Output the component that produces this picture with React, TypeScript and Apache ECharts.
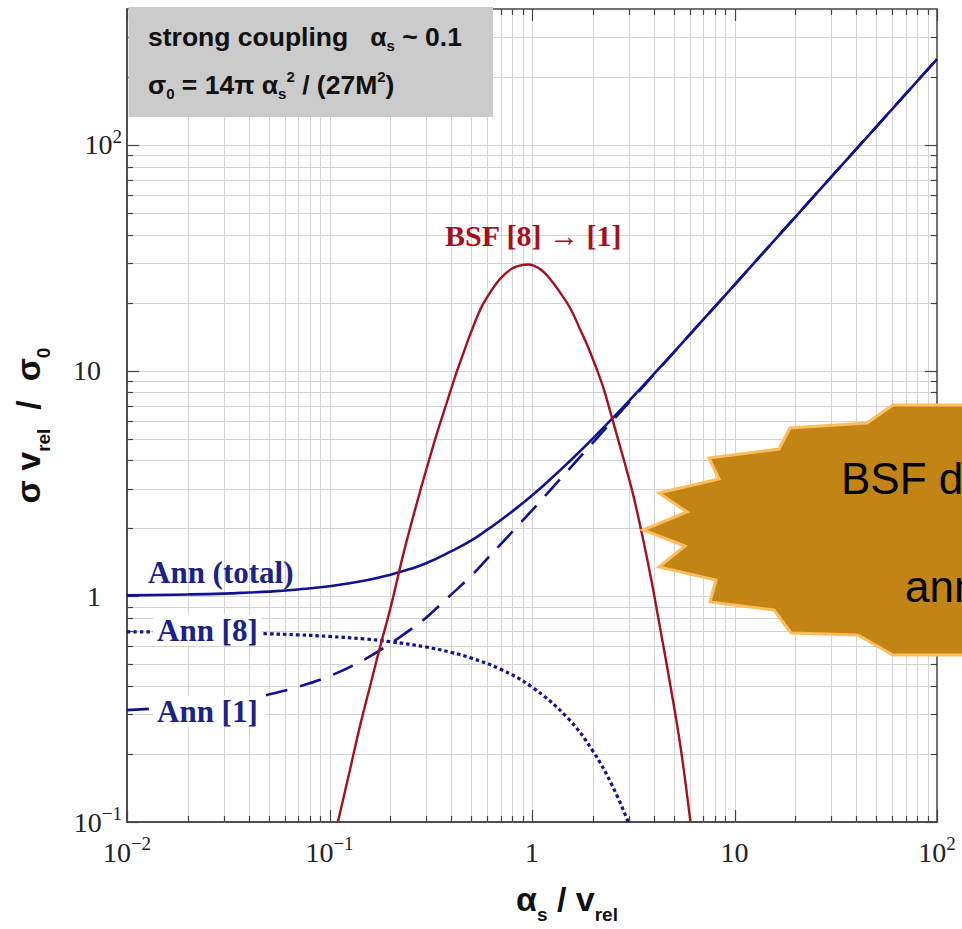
import React, { useEffect, useRef } from "react";
import * as echarts from "echarts";

// ---- data ----
const xAnn = [0.01, 0.02, 0.03, 0.04, 0.05, 0.07, 0.1, 0.15, 0.2, 0.25, 0.3, 0.4, 0.5, 0.6, 0.7, 0.85, 1, 1.2, 1.5, 2, 3, 5, 7, 10, 20, 50, 100];
const annTotal = [1.009, 1.019, 1.028, 1.039, 1.049, 1.072, 1.107, 1.174, 1.247, 1.322, 1.4, 1.584, 1.763, 1.968, 2.175, 2.484, 2.796, 3.23, 3.889, 5.006, 7.299, 12.02, 16.8, 24.0, 48.0, 120, 240];
const ann1 = [0.313, 0.326, 0.339, 0.353, 0.367, 0.397, 0.443, 0.527, 0.618, 0.71, 0.804, 1.02, 1.23, 1.465, 1.7, 2.05, 2.4, 2.88, 3.6, 4.8, 7.2, 12.0, 16.8, 24.0, 48.0, 120, 240];
const xAnn8 = [0.01, 0.02, 0.03, 0.04, 0.05, 0.07, 0.1, 0.15, 0.2, 0.3, 0.4, 0.5, 0.7, 1, 1.5, 2, 2.5, 3];
const ann8 = [0.696, 0.693, 0.689, 0.686, 0.682, 0.675, 0.664, 0.647, 0.629, 0.596, 0.564, 0.533, 0.475, 0.396, 0.289, 0.206, 0.144, 0.099];
const xBsf = [0.11, 0.125, 0.142, 0.16, 0.178, 0.2, 0.232, 0.27, 0.314, 0.345, 0.38, 0.42, 0.459, 0.5, 0.555, 0.6, 0.671, 0.73, 0.8, 0.87, 0.95, 1.02, 1.1, 1.2, 1.38, 1.55, 1.73, 1.9, 2.1, 2.27, 2.44, 2.73, 2.95, 3.18, 3.56, 3.9, 4.31, 4.8, 5.41, 6.06];
const bsf = [0.1, 0.164, 0.27, 0.412, 0.6, 0.887, 1.55, 2.59, 4.17, 5.53, 7.24, 9.58, 12.0, 14.8, 18.6, 21.1, 24.5, 26.6, 28.4, 29.2, 29.5, 29.2, 28.1, 26.1, 22.1, 18.8, 15.2, 12.6, 10.0, 8.2, 6.53, 4.57, 3.56, 2.75, 1.74, 1.16, 0.708, 0.413, 0.216, 0.1];

const xRange = [0.01, 100];
const yRange = [0.1, 400];
const xDecades = [-2, -1, 0, 1, 2];
const yDecades = [-1, 0, 1, 2];

const BLUE = "#11128f";
const LABEL_BLUE = "#1a2388";
const RED = "#a3121c";
const SERIF = "'Liberation Serif', 'DejaVu Serif', serif";
const SANS = "'Liberation Sans', Arial, sans-serif";

const isMajor = (v: number) => {
  const l = Math.log10(v);
  return Math.abs(l - Math.round(l)) < 1e-6;
};

const gridValues = (decades: number[], maxV: number) => {
  const out: number[] = [];
  decades.forEach((d) => {
    for (let m = 1; m <= 9; m++) {
      const v = +(m * Math.pow(10, d)).toPrecision(3);
      if (v <= maxV) out.push(v);
    }
  });
  return out;
};

const xGrid = gridValues(xDecades, xRange[1]);
const yGrid = gridValues(yDecades, yRange[1] - 1);

const powLabel = (v: number, padPlain: boolean) => {
  const l = Math.log10(v);
  const e = Math.round(l);
  if (Math.abs(l - e) > 1e-6) return "";
  if (e === 0) return padPlain ? "{b|1}{pad| }" : "{b|1}";
  if (e === 1) return padPlain ? "{b|10}{pad| }" : "{b|10}";
  return "{b|10}{sup|" + String(e).replace("-", "\u2212") + "}";
};

const tickRich = {
  b: { fontFamily: SERIF, fontSize: 28, lineHeight: 36, color: "#222" },
  sup: { fontFamily: SERIF, fontSize: 19, lineHeight: 19, verticalAlign: "top", color: "#222" },
  pad: { width: 21, fontSize: 10 },
};

export default function App() {
  const ref = useRef<HTMLDivElement>(null);

  useEffect(() => {
    if (!ref.current) return;
    const chart = echarts.init(ref.current, undefined, { renderer: "svg" });

    const boxRich = {
      b: { fontFamily: SANS, fontWeight: "bold", fontSize: 26.5, lineHeight: 32, fill: "#111" },
      s: { fontFamily: SANS, fontWeight: "bold", fontSize: 15, lineHeight: 15, verticalAlign: "bottom", fill: "#111" },
      p: { fontFamily: SANS, fontWeight: "bold", fontSize: 15, lineHeight: 15, verticalAlign: "top", fill: "#111" },
    };

    const option: any = {
      animation: false,
      backgroundColor: "#fff",
      grid: {
        left: 127,
        right: 25,
        top: 9,
        bottom: 107,
        show: true,
        borderColor: "#444",
        borderWidth: 1.5,
        backgroundColor: "transparent",
      },
      xAxis: {
        type: "log",
        logBase: 10,
        min: xRange[0],
        max: xRange[1],
        axisLine: { show: true, lineStyle: { color: "#444", width: 1.5 } },
        axisTick: { show: false },
        splitLine: { show: false },
        axisLabel: {
          margin: 12,
          showMinLabel: true,
          showMaxLabel: true,
          fontFamily: SERIF,
          fontSize: 28,
          formatter: (v: number) => powLabel(v, false),
          rich: tickRich,
        },
        name: "{a|α}{s|s}{a| / v}{s|rel}",
        nameLocation: "middle",
        nameGap: 52,
        nameTextStyle: {
          padding: [0, 0, 0, 70],
          rich: {
            a: { fontFamily: SANS, fontWeight: "bold", fontSize: 34, lineHeight: 50, color: "#111" },
            s: { fontFamily: SANS, fontWeight: "bold", fontSize: 19, lineHeight: 19, verticalAlign: "bottom", color: "#111" },
          },
        },
      },
      yAxis: {
        type: "log",
        logBase: 10,
        min: yRange[0],
        max: yRange[1],
        axisLine: { show: true, lineStyle: { color: "#444", width: 1.5 } },
        axisTick: { show: false },
        splitLine: { show: false },
        axisLabel: {
          margin: 5,
          showMinLabel: true,
          fontFamily: SERIF,
          fontSize: 28,
          formatter: (v: number) => powLabel(v, true),
          rich: tickRich,
        },
        name: "{a|σ v}{s|rel}{a|  /  σ}{s|0}",
        nameLocation: "middle",
        nameGap: 74,
        nameTextStyle: {
          padding: [0, 20, 0, 0],
          rich: {
            a: { fontFamily: SANS, fontWeight: "bold", fontSize: 34, lineHeight: 50, color: "#111" },
            s: { fontFamily: SANS, fontWeight: "bold", fontSize: 19, lineHeight: 19, verticalAlign: "bottom", color: "#111" },
          },
        },
      },
      series: [
        {
          type: "custom",
          silent: true,
          z: 1,
          data: xGrid.map((v) => [v, 1]),
          renderItem: (params: any, api: any) => {
            const v = api.value(0);
            const pt = api.coord([v, 1]);
            const cs = params.coordSys;
            const x = Math.round(pt[0]) + 0.5;
            const top = cs.y;
            const bot = cs.y + cs.height;
            const tl = isMajor(v) ? 12 : 6;
            const children: any[] = [];
            if (v > xRange[0] * 1.01 && v < xRange[1] * 0.99) {
              children.push({ type: "line", shape: { x1: x, y1: top, x2: x, y2: bot }, style: { stroke: "#d4d4d4", lineWidth: 1 } });
            }
            children.push({ type: "line", shape: { x1: x, y1: bot, x2: x, y2: bot - tl }, style: { stroke: "#444", lineWidth: 1.2 } });
            children.push({ type: "line", shape: { x1: x, y1: top, x2: x, y2: top + tl }, style: { stroke: "#444", lineWidth: 1.2 } });
            return { type: "group", children };
          },
        },
        {
          type: "custom",
          silent: true,
          z: 1,
          data: yGrid.map((v) => [1, v]),
          renderItem: (params: any, api: any) => {
            const v = api.value(1);
            const pt = api.coord([1, v]);
            const cs = params.coordSys;
            const y = Math.round(pt[1]) + 0.5;
            const left = cs.x;
            const right = cs.x + cs.width;
            const tl = isMajor(v) ? 12 : 6;
            const children: any[] = [];
            if (v > yRange[0] * 1.01) {
              children.push({ type: "line", shape: { x1: left, y1: y, x2: right, y2: y }, style: { stroke: "#d4d4d4", lineWidth: 1 } });
            }
            children.push({ type: "line", shape: { x1: left, y1: y, x2: left + tl, y2: y }, style: { stroke: "#444", lineWidth: 1.2 } });
            children.push({ type: "line", shape: { x1: right, y1: y, x2: right - tl, y2: y }, style: { stroke: "#444", lineWidth: 1.2 } });
            return { type: "group", children };
          },
        },
        {
          type: "line",
          name: "Ann [1]",
          silent: true,
          z: 3,
          symbol: "none",
          smooth: 0.4,
          data: xAnn.map((x, i) => [x, ann1[i]]),
          lineStyle: { color: BLUE, width: 2.6, type: [22, 13] },
        },
        {
          type: "line",
          name: "Ann [8]",
          silent: true,
          z: 3,
          symbol: "none",
          smooth: 0.4,
          data: xAnn8.map((x, i) => [x, ann8[i]]),
          lineStyle: { color: BLUE, width: 3.2, type: [3.5, 3] },
        },
        {
          type: "line",
          name: "Ann (total)",
          silent: true,
          z: 4,
          symbol: "none",
          smooth: 0.45,
          data: xAnn.map((x, i) => [x, annTotal[i]]),
          lineStyle: { color: BLUE, width: 2.6 },
        },
        {
          type: "line",
          name: "BSF [8] → [1]",
          silent: true,
          z: 5,
          symbol: "none",
          smooth: 0.4,
          data: xBsf.map((x, i) => [x, bsf[i]]),
          lineStyle: { color: RED, width: 2.4 },
        },
      ],
      graphic: [
        {
          type: "rect",
          z: 100,
          silent: true,
          shape: { x: 128.5, y: 7, width: 364.5, height: 110 },
          style: { fill: "#cbcbcb" },
        },
        {
          type: "text",
          z: 101,
          silent: true,
          x: 148,
          y: 37,
          style: {
            text: "{b|strong coupling   α}{s|s}{b| ~ 0.1}",
            rich: boxRich,
            verticalAlign: "middle",
          },
        },
        {
          type: "text",
          z: 101,
          silent: true,
          x: 148,
          y: 85,
          style: {
            text: "{b|σ}{s|0}{b| = 14π α}{s|s}{p|2}{b| / (27M}{p|2}{b|)}",
            rich: boxRich,
            verticalAlign: "middle",
          },
        },
        {
          type: "text",
          z: 100,
          silent: true,
          x: 148,
          y: 572,
          style: { text: "Ann (total)", fontFamily: SERIF, fontWeight: "bold", fontSize: 31, fill: LABEL_BLUE, verticalAlign: "middle" },
        },
        {
          type: "text",
          z: 100,
          silent: true,
          x: 153,
          y: 630,
          style: {
            text: "Ann [8]",
            fontFamily: SERIF,
            fontWeight: "bold",
            fontSize: 31,
            fill: LABEL_BLUE,
            verticalAlign: "middle",
            backgroundColor: "#fff",
            padding: [0, 4, 0, 4],
          },
        },
        {
          type: "text",
          z: 100,
          silent: true,
          x: 153,
          y: 711,
          style: {
            text: "Ann [1]",
            fontFamily: SERIF,
            fontWeight: "bold",
            fontSize: 31,
            fill: LABEL_BLUE,
            verticalAlign: "middle",
            backgroundColor: "#fff",
            padding: [0, 8, 0, 4],
          },
        },
        {
          type: "text",
          z: 100,
          silent: true,
          x: 445,
          y: 235,
          style: { text: "BSF [8] → [1]", fontFamily: SERIF, fontWeight: "bold", fontSize: 30, fill: RED, verticalAlign: "middle" },
        },
        {
          type: "polygon",
          z: 100,
          silent: true,
          shape: {
            points: [
              [1012, 405], [893, 405], [867, 423], [790, 428], [779, 449], [709, 458], [719, 479],
              [659, 493], [687, 512], [643, 530], [685, 546], [659, 567], [716, 580], [710, 602],
              [774, 610], [791, 633], [858, 635], [893, 655], [1012, 655],
            ],
          },
          style: { fill: "#c38416", stroke: "#ffbc5a", lineWidth: 3, lineJoin: "miter" },
        },
        {
          type: "text",
          z: 101,
          silent: true,
          x: 841,
          y: 478,
          style: { text: "BSF dominates", fontFamily: SANS, fontSize: 44, fill: "#000", verticalAlign: "middle" },
        },
        {
          type: "text",
          z: 101,
          silent: true,
          x: 905,
          y: 586,
          style: { text: "annihilation", fontFamily: SANS, fontSize: 44, fill: "#000", verticalAlign: "middle" },
        },
      ],
    };

    chart.setOption(option);
    return () => chart.dispose();
  }, []);

  return (
    <div
      ref={ref}
      style={{ position: "absolute", left: 0, top: 0, width: 962, height: 929, background: "#fff" }}
    />
  );
}
